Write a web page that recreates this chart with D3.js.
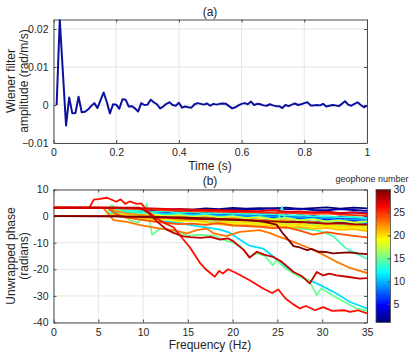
<!DOCTYPE html>
<html>
<head>
<meta charset="utf-8">
<script src="https://cdn.jsdelivr.net/npm/d3@7"></script>
<style>
  body { margin: 0; background: #fff; }
  text { font-family: "Liberation Sans", Arial, sans-serif; fill: #262626; }
</style>
</head>
<body>
<svg id="chart" width="415" height="362"></svg>
<script>
// (a) Wiener filter amplitude, one sample every 0.01 s
const wienerAmp = [
  0, 0.0225, 0.0085, -0.0054, 0.0020, -0.0022, -0.0021, 0.0022, -0.0019, -0.0018,
  -0.0012, -0.0003, 0.0005, -0.0008, 0.0012, 0.0033, 0.0008, -0.0022, 0.0002, 0.0001,
  -0.0010, 0.0015, 0.0014, -0.0004, -0.0003, -0.0009, -0.0017, 0.0005, 0.0000, 0.0001,
  0.0014, 0.0007, 0.0002, -0.0009, -0.0004, 0.0003, 0.0007, 0.0000, -0.0002, 0.0006,
  -0.0007, -0.0004, -0.0006, -0.0007, 0.0002, 0.0005, 0.0003, 0.0001, 0.0004, -0.0002,
  0.0003, 0.0001, 0.0003, 0.0004, 0.0003, -0.0003, -0.0009, -0.0006, -0.0001, 0.0003,
  0.0005, 0.0002, 0.0009, 0.0000, 0.0003, 0.0002, -0.0001, -0.0002, 0.0002, -0.0001,
  -0.0003, -0.0003, -0.0008, 0.0000, -0.0003, 0.0001, 0.0004, 0.0000, 0.0002, 0.0005,
  0.0007, -0.0001, -0.0001, 0.0000, -0.0001, 0.0003, -0.0004, -0.0002, 0.0000, -0.0001,
  -0.0003, 0.0003, 0.0010, 0.0001, -0.0002, 0.0003, 0.0007, 0.0000, -0.0006, -0.0002
];
const timeTicks = [0, 0.2, 0.4, 0.6, 0.8, 1];
const ampTicks = [-0.01, 0, 0.01, 0.02];

// (b) unwrapped phase per geophone
const freqTicks = [0, 5, 10, 15, 20, 25, 30, 35];
const phaseTicks = [-40, -30, -20, -10, 0, 10];
const geoTicks = [5, 10, 15, 20, 25, 30];

// common frequency grid for the bundle of traces
const fGrid = [0, 6, 7, 8, 9.5, 11, 12.5, 14, 15.5, 17, 18.5, 20, 21.5, 23, 24.5, 26, 27.5, 29, 30.5, 32, 33.5, 35];
const g01 = [0,0,1.2,1.6,2.0,2.3,2.1,2.6,2.4,2.9,2.6,3.1,2.8,3.0,2.9,3.2,2.7,3.0,3.3,2.8,3.2,2.9];
const g02 = [0,0,1.0,0.8,1.4,1.7,1.3,1.8,2.1,2.5,2.2,2.7,2.4,2.6,2.9,2.5,2.8,2.3,2.2,2.6,2.3,2.0];
const g03 = [0,0,0.5,1.2,0.8,1.1,1.5,1.0,1.4,1.1,1.6,1.2,1.7,1.3,1.0,1.5,0.9,1.3,1.6,1.0,1.4,1.1];
const g04 = [0,0,0.8,0.3,0.6,0.2,0.6,0.1,0.5,-0.2,0.3,0.0,-0.3,0.3,-0.5,-0.1,-0.6,-0.2,-0.8,-0.3,-0.9,-0.5];
const g05 = [0,0,1.5,1.0,0.5,0.9,0.2,0.7,0.0,0.4,-0.3,0.2,-0.5,-0.2,-0.9,-0.4,-1.2,-0.7,-1.5,-1.0,-1.8,-1.4];
const g06 = [0,0,0.3,-0.2,0.2,-0.4,0.0,-0.6,-0.2,-0.9,-0.5,-1.2,-0.7,-1.5,-1.0,-1.9,-1.4,-2.2,-1.7,-2.5,-2.0,-2.7];
const g07 = [0,0,1.8,1.2,0.9,1.4,0.8,1.2,0.6,1.0,0.4,0.8,0.3,0.6,0.1,0.4,-0.3,0.1,-0.6,-0.2,-0.9,-0.6];
const g08 = [0,0,0.2,-0.5,-0.2,-0.8,-0.4,-1.1,-0.7,-1.5,-1.1,-1.9,-1.4,-2.1,-1.7,-2.5,-2.0,-2.9,-2.3,-3.1,-2.7,-3.3];
const g09 = [0,0,2.2,1.6,1.0,0.6,1.0,0.4,0.7,0.1,0.5,-0.2,0.2,-0.4,-0.1,-0.8,-0.3,-1.2,-0.6,-1.6,-1.1,-1.8];
const g10 = [0,0,1.2,0.5,-0.3,-0.8,-1.2,-0.9,-1.6,-1.4,-2.1,-1.8,-2.6,-2.2,-3.0,-2.6,-3.5,-3.0,-4.0,-3.4,-4.3,-3.9];
const g12 = [0,0,3.0,2.5,1.5,1.0,0.5,0.8,0.2,0.5,-0.3,0.1,-0.7,-0.3,-1.1,-0.6,-1.5,-1.0,-2.1,-1.6,-2.6,-2.3];
const g13 = [0,0,2.5,1.8,2.2,1.5,1.9,1.2,1.6,1.0,1.3,0.8,1.0,0.5,0.8,0.2,0.4,-0.2,0.0,-0.5,-0.3,-0.9];
const g16 = [0,0,1.0,0.5,0.0,-0.5,-0.2,-0.8,-0.5,-1.2,-0.8,-1.5,-1.2,-1.8,-1.5,-2.2,-1.8,-2.6,-2.3,-3.0,-2.8,-3.4];
const g17 = [0,0,0.6,0.0,-0.6,-1.0,-0.7,-1.3,-1.0,-1.7,-1.4,-2.1,-1.7,-2.5,-2.1,-3.0,-2.6,-3.4,-3.0,-3.8,-3.4,-4.0];
const g18 = [0,0,0.4,0.8,0.3,0.6,0.1,0.4,-0.2,0.2,-0.5,-0.1,-0.8,-0.4,-1.2,-0.8,-1.6,-1.2,-2.0,-1.6,-2.4,-2.0];
const g19 = [0,0,0.3,-0.5,-1.0,-1.5,-1.2,-2.0,-1.8,-2.6,-2.3,-3.1,-2.8,-3.5,-3.1,-3.9,-3.5,-4.2,-3.9,-4.6,-4.3,-5.0];
const g20 = [0,0,0.8,0.2,-0.4,0.2,-0.6,-0.2,-1.0,-0.6,-1.6,-2.6,-2.1,-2.9,-2.5,-3.3,-2.9,-3.7,-3.3,-4.1,-3.8,-4.5];
const g21 = [0,0,0.5,0.0,-0.5,-1.2,-0.8,-1.6,-1.3,-2.1,-3.1,-3.6,-3.3,-3.9,-3.6,-4.4,-4.1,-4.8,-4.4,-5.2,-4.9,-5.6];
const g22 = [3.14,3.1,2.0,1.0,0.5,0.0,-0.5,-0.2,-0.8,-0.5,-1.2,-0.8,-1.5,-1.2,-2.0,-1.6,-2.5,-2.2,-3.0,-2.8,-3.5,-3.2];
const g24 = [3.14,3.1,0.8,-0.5,-1.2,-2.0,-2.5,-3.0,-2.8,-3.3,-2.6,-3.5,-3.8,-4.0,-4.5,-4.2,-5.5,-7.0,-6.0,-6.8,-7.4,-8.0];
const g25 = [3.14,3.14,3.0,2.8,2.6,2.4,2.2,2.0,1.8,1.9,1.6,1.7,1.4,1.5,1.2,1.3,1.0,0.8,1.0,0.6,0.4,0.2];
const g27 = [3.14,3.14,3.14,3.1,3.0,2.9,2.7,2.6,2.4,2.3,2.2,2.1,2.0,1.9,2.2,1.6,1.8,1.4,1.6,1.2,1.4,0.8];
const g29 = [0,0,0,-0.2,-0.3,-0.5,-0.6,-0.8,-1.0,-1.1,-1.3,-1.4,-1.6,-1.8,-2.0,-2.3,-2.2,-2.5,-2.8,-2.6,-3.0,-3.2];

// traces that leave the bundle, as [frequency, phase] pairs
const g11 = [[0,0],[6.5,0],[7,2.5],[8,1.5],[9.5,0],[11,-1],[12.5,-2],[14,-2.5],[15.5,-3.5],[17,-4.2],[18.5,-5],[19.5,-6],[20.1,-7.2],[21.2,-9.7],[21.8,-11],[23.4,-12.2],[24.4,-14.8],[25.7,-18.5],[27.5,-22.8],[29.4,-25.3],[31.6,-29.1],[33.1,-32.3],[35,-34.7]];
const g14 = [[0,0],[6.5,0],[7,3],[8,2],[9.5,1],[11,0.5],[12.5,0],[14,-0.5],[15.5,-1],[17,-1.2],[18.5,-1.8],[20,-2],[21.5,-2.5],[23,-2.8],[24.5,-3.2],[25,-3],[25.5,3.5],[26,-3.5],[27,-4.5],[28.5,-5],[29.5,-5.5],[30.5,-6.5],[31.3,-7.8],[32.6,-12],[33.8,-14],[35,-16]];
const g15 = [[0,0],[6,0],[6.4,4],[7,3.2],[7.5,1.5],[8.5,-1.5],[9.5,-2.5],[10,0.5],[10.4,4.7],[11,-7],[12,-4.5],[13,-5.5],[14,-6],[15,-7.5],[16,-7],[17,-7.2],[18,-7.5],[19,-9],[20,-10],[20.8,-11],[21.9,-15.3],[22.7,-14],[23.6,-15],[24.5,-18.5],[24.9,-16.5],[26,-20],[27.5,-22.8],[28.5,-24],[29.4,-29.7],[29.9,-27.2],[31.1,-29.7],[32.5,-32.3],[33.8,-34.7],[35,-35.6]];
const g23 = [[0,3.14],[5.2,3.14],[5.6,2.9],[6.7,-1.5],[8.2,-2.2],[9.7,-3.4],[11.9,-4.7],[13.4,-5.3],[14.9,-6.5],[16,-5.3],[17.1,-4.7],[17.9,-6.5],[19.3,-7.5],[20.8,-5.9],[23,-5.3],[24.1,-6.3],[25,-7.5],[26.8,-9.7],[28.5,-12],[30.1,-14.5],[31.5,-17],[33.1,-19.5],[35,-21.4]];
const g26 = [[0,3.14],[4,3.14],[4.5,6.2],[5,6.4],[6,6.9],[7,5.4],[7.5,6.3],[8,4.6],[8.5,5.5],[9.3,4.6],[9.8,4.8],[10.4,2.2],[11.5,-0.9],[12.5,-2.8],[13.4,-4.2],[14.1,-7.2],[15.2,-11.6],[16.4,-17.8],[17,-20],[18,-22.8],[18.5,-20.6],[18.9,-21.6],[19.5,-20],[20.5,-21.6],[21.9,-24.1],[23.4,-27.2],[24.4,-28.9],[25.1,-27.6],[25.9,-31],[26.7,-33],[27.5,-34.7],[28.2,-33.8],[29.2,-35.4],[30.1,-34.2],[31.1,-35.6],[32.5,-35.4],[33.1,-36],[34,-35.4],[35,-36.6]];
const g28 = [[0,3.14],[9.6,3.14],[10.5,1.5],[11.5,-1.9],[12.6,-5],[13.4,-6.3],[14.5,-7.6],[15.3,-7.9],[16.4,-8.2],[17.5,-7.8],[18.6,-8.8],[19.5,-8.4],[20.1,-9.5],[20.6,-11],[21.2,-12.6],[21.9,-15.6],[22.7,-13.4],[23.5,-14.5],[24.5,-15.3],[25.5,-17.2],[26.8,-21],[27.7,-22.5],[28.6,-25.3],[29.4,-21],[30.1,-22.3],[30.8,-21.6],[31.6,-22.3],[32.8,-22.8],[34.2,-23.5],[35,-23.3]];
const g30 = [[0,0],[10,-0.2],[15,-0.6],[20,-1.2],[22,-1.6],[23.5,-2.2],[24.9,-3.2],[25.7,-6.9],[26.3,-9.2],[26.8,-11.3],[27.5,-11.8],[28.3,-12.8],[28.8,-12.3],[29.6,-13.4],[30.5,-13.5],[31.2,-14],[32,-13.8],[33,-13.6],[34,-14],[35,-14.3]];

const phaseSeries = [
  [1, g01], [2, g02], [3, g03], [4, g04], [5, g05], [6, g06], [7, g07], [8, g08], [9, g09], [10, g10],
  [11, g11], [12, g12], [13, g13], [14, g14], [15, g15], [16, g16], [17, g17], [18, g18], [19, g19], [20, g20],
  [21, g21], [22, g22], [23, g23], [24, g24], [25, g25], [26, g26], [27, g27], [28, g28], [29, g29], [30, g30]
];

// MATLAB-like jet colormap
function jet(t) {
  const c = v => Math.max(0, Math.min(1, v));
  return d3.rgb(255 * c(1.5 - Math.abs(4 * t - 3)), 255 * c(1.5 - Math.abs(4 * t - 2)), 255 * c(1.5 - Math.abs(4 * t - 1)));
}
const geoColor = n => jet((n - 1) / 29);

const svg = d3.select("#chart");
const axisColor = "#4d4d4d", gridColor = "#e6e6e6";

function frame(g, x, y, w, h, xt, yt, xfmt, yfmt) {
  g.append("g").selectAll("line").data(xt).join("line")
    .attr("x1", d => x(d)).attr("x2", d => x(d)).attr("y1", 0).attr("y2", h)
    .attr("stroke", gridColor);
  g.append("g").selectAll("line").data(yt).join("line")
    .attr("y1", d => y(d)).attr("y2", d => y(d)).attr("x1", 0).attr("x2", w)
    .attr("stroke", gridColor);
  const ax = [
    g.append("g").attr("transform", `translate(0,${h})`)
      .call(d3.axisBottom(x).tickValues(xt).tickFormat(xfmt).tickSize(-3).tickSizeOuter(0).tickPadding(6)),
    g.append("g")
      .call(d3.axisTop(x).tickValues(xt).tickFormat("").tickSize(-3).tickSizeOuter(0)),
    g.append("g")
      .call(d3.axisLeft(y).tickValues(yt).tickFormat(yfmt).tickSize(-3).tickSizeOuter(0).tickPadding(5)),
    g.append("g").attr("transform", `translate(${w},0)`)
      .call(d3.axisRight(y).tickValues(yt).tickFormat("").tickSize(-3).tickSizeOuter(0))
  ];
  ax.forEach(a => {
    a.selectAll("path, line").attr("stroke", axisColor);
    a.selectAll("text").style("font-size", "10.5px").attr("fill", "#262626");
  });
}

// ---- panel (a)
const topM = { left: 53.5, top: 19.5, w: 313.5, h: 123.5 };
const ga = svg.append("g").attr("transform", `translate(${topM.left},${topM.top})`);
const xa = d3.scaleLinear().domain([0, 1]).range([0, topM.w]);
const ya = d3.scaleLinear().domain([-0.01, 0.0225]).range([topM.h, 0]);
frame(ga, xa, ya, topM.w, topM.h, timeTicks, ampTicks, d => d3.format("")(d), d => d3.format("")(d));

svg.append("clipPath").attr("id", "clipA").append("rect").attr("width", topM.w).attr("height", topM.h);
const times = wienerAmp.map((_, i) => (i + 1) / 100);
ga.append("path")
  .datum(wienerAmp.map((v, i) => [times[i], v]))
  .attr("clip-path", "url(#clipA)")
  .attr("fill", "none")
  .attr("stroke", "#0c109e")
  .attr("stroke-width", 2)
  .attr("stroke-linejoin", "round")
  .attr("d", d3.line().x(d => xa(d[0])).y(d => ya(d[1])));

svg.append("text").attr("x", 210).attr("y", 15.5).attr("text-anchor", "middle").style("font-size", "12px").text("(a)");
svg.append("text").attr("x", 210).attr("y", 170).attr("text-anchor", "middle").style("font-size", "12px").text("Time (s)");
const yla = svg.append("text").attr("transform", "translate(0,81) rotate(-90)").attr("text-anchor", "middle").style("font-size", "12px");
yla.append("tspan").attr("x", 0).attr("y", 15).text("Wiener filter");
yla.append("tspan").attr("x", 0).attr("y", 27.5).text("amplitude (rad/m/s)");

// ---- panel (b)
const botM = { left: 53.5, top: 189.5, w: 313.5, h: 133 };
const gb = svg.append("g").attr("transform", `translate(${botM.left},${botM.top})`);
const xb = d3.scaleLinear().domain([0, 35]).range([0, botM.w]);
const yb = d3.scaleLinear().domain([-40, 10]).range([botM.h, 0]);
frame(gb, xb, yb, botM.w, botM.h, freqTicks, phaseTicks, d => d, d => d);

svg.append("clipPath").attr("id", "clipB").append("rect").attr("width", botM.w).attr("height", botM.h);
const phaseLine = d3.line().x(d => xb(d[0])).y(d => yb(d[1]));
gb.append("g").attr("clip-path", "url(#clipB)")
  .selectAll("path")
  .data(phaseSeries)
  .join("path")
  .attr("fill", "none")
  .attr("stroke", d => geoColor(d[0]))
  .attr("stroke-width", 1.8)
  .attr("stroke-linejoin", "round")
  .attr("d", d => phaseLine(typeof d[1][0] === "number" ? fGrid.map((f, i) => [f, d[1][i]]) : d[1]));

svg.append("text").attr("x", 210).attr("y", 185).attr("text-anchor", "middle").style("font-size", "12px").text("(b)");
svg.append("text").attr("x", 210).attr("y", 349).attr("text-anchor", "middle").style("font-size", "12px").text("Frequency (Hz)");
const ylb = svg.append("text").attr("transform", "translate(0,256) rotate(-90)").attr("text-anchor", "middle").style("font-size", "12px");
ylb.append("tspan").attr("x", 0).attr("y", 15).text("Unwrapped phase");
ylb.append("tspan").attr("x", 0).attr("y", 28).text("(radians)");

// ---- colorbar
const cb = { x: 376, y: 189.5, w: 14.5, h: 133 };
const grad = svg.append("defs").append("linearGradient").attr("id", "jetGrad")
  .attr("x1", 0).attr("y1", 1).attr("x2", 0).attr("y2", 0);
d3.range(64).forEach(i => {
  const c = jet(i / 63).toString();
  grad.append("stop").attr("offset", i / 64).attr("stop-color", c);
  grad.append("stop").attr("offset", (i + 1) / 64).attr("stop-color", c);
});
svg.append("rect").attr("x", cb.x).attr("y", cb.y).attr("width", cb.w).attr("height", cb.h)
  .attr("fill", "url(#jetGrad)").attr("stroke", axisColor).attr("stroke-width", 0.8);
const yc = d3.scaleLinear().domain([1, 30]).range([cb.y + cb.h, cb.y]);
const cax = svg.append("g").attr("transform", `translate(${cb.x + cb.w},0)`)
  .call(d3.axisRight(yc).tickValues(geoTicks).tickSize(-3).tickSizeOuter(0).tickPadding(3));
cax.select(".domain").remove();
cax.selectAll("line").attr("stroke", axisColor);
cax.selectAll("text").style("font-size", "10.5px").attr("fill", "#262626");
svg.append("text").attr("x", 372).attr("y", 182).attr("text-anchor", "middle").style("font-size", "9px").text("geophone number");
</script>
</body>
</html>
